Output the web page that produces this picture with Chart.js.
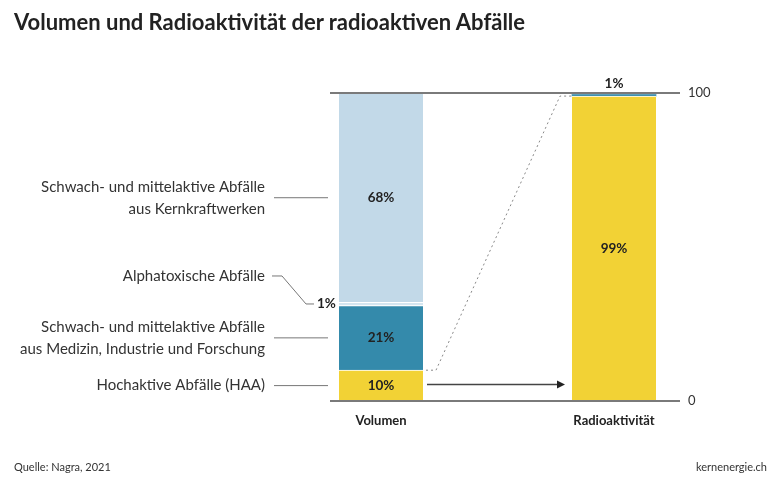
<!DOCTYPE html>
<html>
<head>
<meta charset="utf-8">
<script src="https://cdn.jsdelivr.net/npm/chart.js@4"></script>
<style>
  body{margin:0;background:#fff;font-family:Lato,sans-serif;}
  #wrap{position:relative;width:780px;height:485px;}
  #title{position:absolute;left:14px;top:8px;font-size:22px;font-weight:700;color:#222;white-space:nowrap;}
  .foot{position:absolute;top:460px;font-size:11px;color:#333;}
  canvas{position:absolute;left:0;top:0;}
</style>
</head>
<body>
<div id="wrap">
  <canvas id="chart" width="780" height="485"></canvas>
  <div id="title">Volumen und Radioaktivität der radioaktiven Abfälle</div>
  <div class="foot" style="left:14px">Quelle: Nagra, 2021</div>
  <div class="foot" style="right:13px">kernenergie.ch</div>
</div>
<script>
// categories + series (percent)
const categories=['Volumen','Radioaktivität'];
const haa=[10,99];
const smaMif=[21,0.5];
const alpha=[1,0];
const smaKkw=[68,0.5];
const yTicks=[0,100];

const seriesNames=[
  ['Hochaktive Abfälle (HAA)'],
  ['Schwach- und mittelaktive Abfälle','aus Medizin, Industrie und Forschung'],
  ['Alphatoxische Abfälle'],
  ['Schwach- und mittelaktive Abfälle','aus Kernkraftwerken']
];
const colors=['#f2d235','#348aab','#d5e6f0','#c2d9e8'];

function mk(i,data){
  return {label:seriesNames[i].join(' '),data:data,backgroundColor:colors[i],
    borderColor:'#fff',
    borderWidth:ctx=>(ctx.dataIndex===0||ctx.datasetIndex===0)?{top:1,left:0,right:0,bottom:0}:0,
    borderSkipped:false,barThickness:84,clip:false};
}

const deco={
  id:'deco',
  afterDatasetsDraw(chart){
    const c=chart.ctx, x=chart.scales.x, y=chart.scales.y;
    const xv=x.getPixelForValue(0), xr=x.getPixelForValue(1);
    const half=42;
    c.save();
    // base + top lines
    c.strokeStyle='#7a7a7a';c.lineWidth=2;
    yTicks.forEach(v=>{
      const py=y.getPixelForValue(v);
      c.beginPath();c.moveTo(xv-half-9,py);c.lineTo(xr+half+24,py);c.stroke();
    });
    // percent labels in bars
    c.fillStyle='#222';c.font='bold 13.5px Lato';c.textAlign='center';c.textBaseline='middle';
    c.fillText(haa[0]+'%',xv,y.getPixelForValue(haa[0]/2));
    c.fillText(smaMif[0]+'%',xv,y.getPixelForValue(haa[0]+smaMif[0]/2));
    const kb=haa[0]+smaMif[0]+alpha[0];
    c.fillText(smaKkw[0]+'%',xv,y.getPixelForValue(kb+smaKkw[0]/2));
    c.fillText(haa[1]+'%',xr,y.getPixelForValue(haa[1]/2));
    c.fillText((100-haa[1])+'%',xr,y.getPixelForValue(100)-9);
    // alpha 1% label
    const ay=y.getPixelForValue(haa[0]+smaMif[0]+alpha[0]/2);
    c.textAlign='left';
    c.fillText(alpha[0]+'%',xv-half-22,ay);
    // left labels and leader lines
    c.font='15px Lato';c.fillStyle='#333';c.textAlign='right';
    c.strokeStyle='#777';c.lineWidth=1;
    const mids=[haa[0]/2,haa[0]+smaMif[0]/2,null,kb+smaKkw[0]/2];
    [0,1,3].forEach(i=>{
      const py=y.getPixelForValue(mids[i]);
      const lines=seriesNames[i];
      lines.forEach((t,k)=>c.fillText(t,265,py+(k-(lines.length-1)/2)*22));
      c.beginPath();c.moveTo(274,py);c.lineTo(xv-half-11,py);c.stroke();
    });
    const ly=ay-28;
    c.fillText(seriesNames[2][0],265,ly);
    c.beginPath();c.moveTo(272,ly);c.lineTo(282,ly);c.lineTo(306,ay);c.lineTo(314,ay);c.stroke();
    // dotted connector
    const y10=y.getPixelForValue(haa[0]), y99=y.getPixelForValue(haa[1]);
    c.setLineDash([2,3]);c.strokeStyle='#888';
    c.beginPath();c.moveTo(xv+half+3,y10);c.lineTo(xv+half+13,y10);
    c.lineTo(xr-half-12,y99);c.lineTo(xr-half,y99);c.stroke();
    c.setLineDash([]);
    // arrow
    const ya=y.getPixelForValue(haa[0]/2)-1;
    c.strokeStyle='#444';c.lineWidth=1.5;
    c.beginPath();c.moveTo(xv+half+4,ya);c.lineTo(xr-half-12,ya);c.stroke();
    c.fillStyle='#222';
    c.beginPath();c.moveTo(xr-half-7,ya);c.lineTo(xr-half-15,ya-4);c.lineTo(xr-half-15,ya+4);c.closePath();c.fill();
    c.restore();
  }
};

new Chart(document.getElementById('chart'),{
  type:'bar',
  data:{labels:categories,datasets:[mk(0,haa),mk(1,smaMif),mk(2,alpha),mk(3,smaKkw)]},
  options:{
    responsive:false,animation:false,
    layout:{padding:{left:381,top:93,right:0,bottom:0}},
    plugins:{legend:{display:false},tooltip:{enabled:false}},
    scales:{
      x:{stacked:true,offset:false,grid:{display:false,drawTicks:false},border:{display:false},
        ticks:{padding:12,color:'#222',font:{family:'Lato',size:13,weight:'bold'}},
        afterFit(s){s.height=84;}},
      y:{stacked:true,position:'right',min:0,max:100,grid:{display:false,drawTicks:false},border:{display:false},
        afterBuildTicks(s){s.ticks=yTicks.map(v=>({value:v}));},
        afterFit(s){s.width=166;},
        ticks:{padding:74,color:'#333',font:{family:'Lato',size:13}}}
    }
  },
  plugins:[deco]
});
</script>
</body>
</html>
